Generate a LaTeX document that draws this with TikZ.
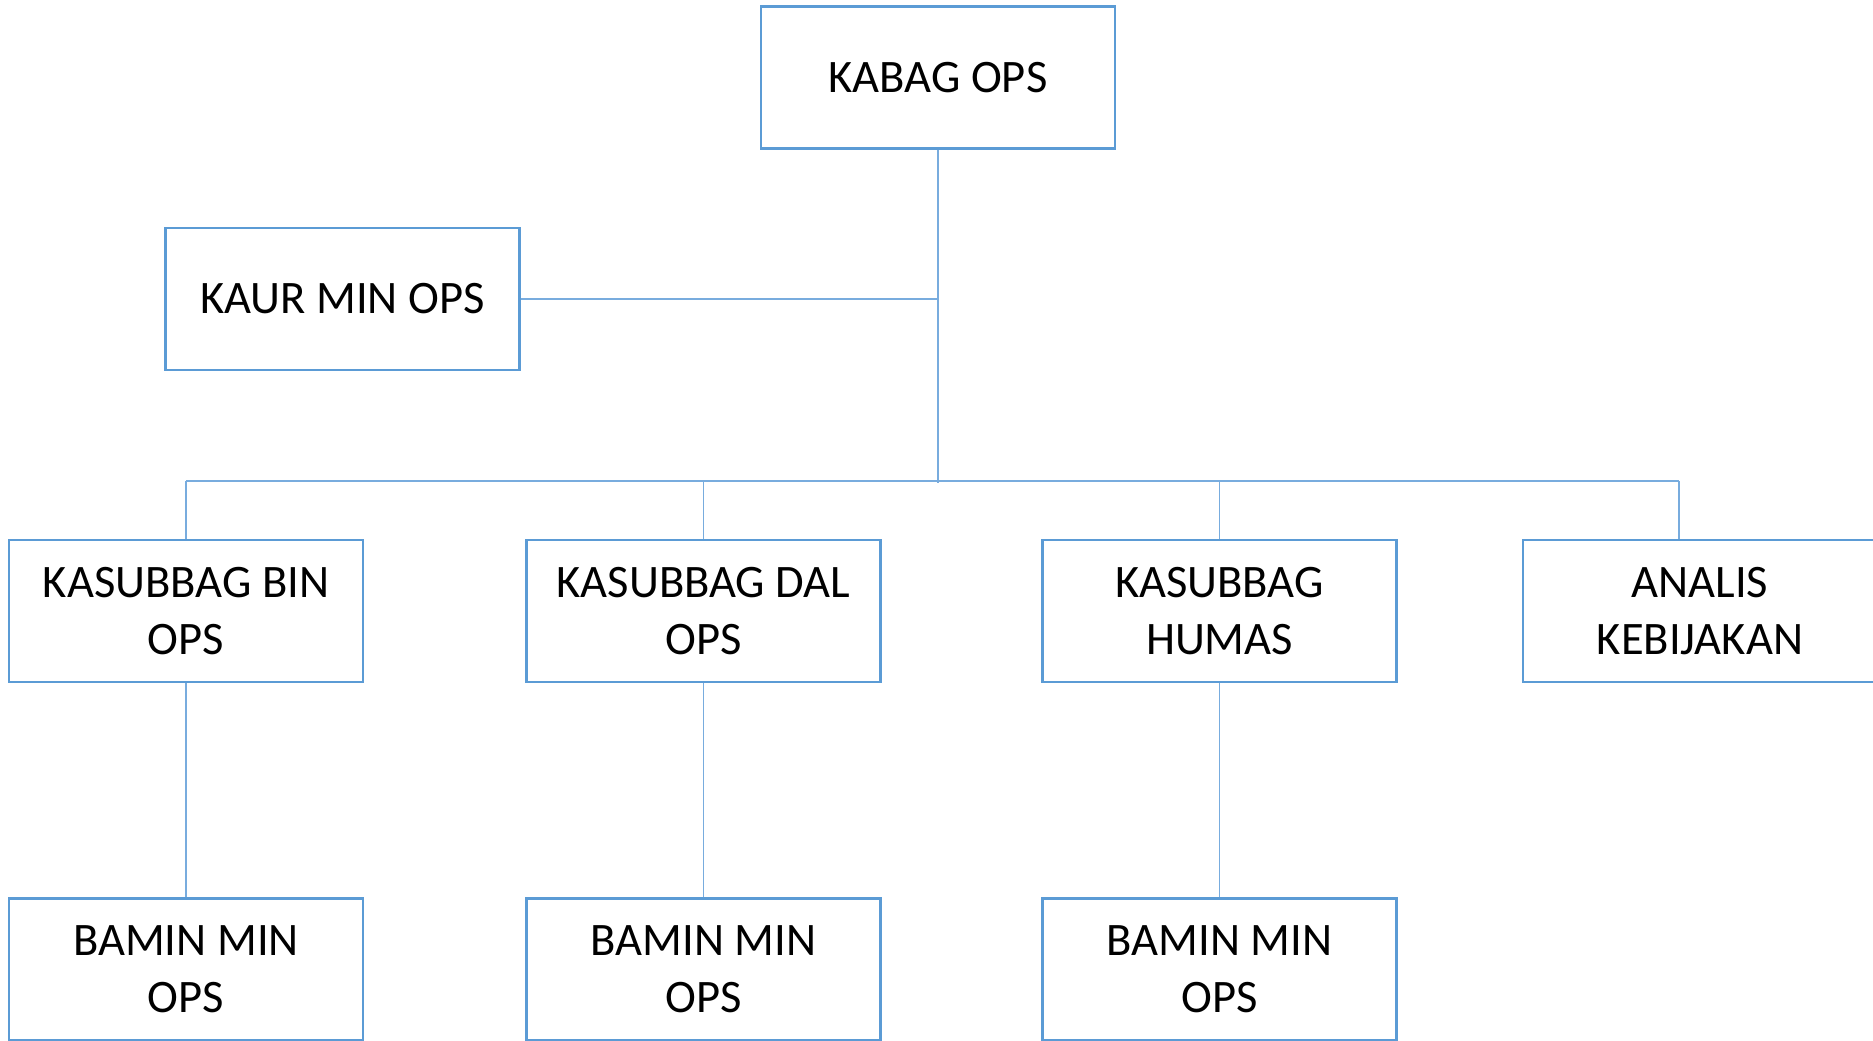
\documentclass[tikz,border=0pt]{standalone}
\usepackage{fontspec}
\setmainfont{Carlito}
\definecolor{unitblue}{RGB}{91,155,213}
\definecolor{linkblue}{RGB}{120,172,222}
\begin{document}
\begin{tikzpicture}[x=0.02cm,y=-0.02cm,
  unit/.style = {draw=unitblue, line width=1.2pt, fill=white, minimum width=7.08cm,
    minimum height=2.84cm, inner sep=0pt, align=center, font=\fontsize{26.5}{32.6}\selectfont},
  link/.style = {draw=linkblue, line width=0.8pt}]
  \useasboundingbox (0,0) rectangle (1873,1041);
  % top and staff
  \node [unit] (kabagN) at (938,77.5) {KABAG OPS};
  \node [unit] (kaurN) at (342.5,299) {KAUR MIN OPS};
  % sub sections
  \node [unit] (binN) at (186,611) {KASUBBAG BIN\\OPS};
  \node [unit] (dalN) at (703.5,611) {KASUBBAG DAL\\OPS};
  \node [unit] (humasN) at (1219.5,611) {KASUBBAG\\HUMAS};
  \node [unit] (analisN) at (1700,611) {ANALIS\\KEBIJAKAN};
  % staff below
  \node [unit] (bamin1N) at (186,969.5) {BAMIN MIN\\OPS};
  \node [unit] (bamin2N) at (703.5,969.5) {BAMIN MIN\\OPS};
  \node [unit] (bamin3N) at (1219.5,969.5) {BAMIN MIN\\OPS};
  \coordinate (busC) at (938,483);
  \coordinate (analisC) at (1679,481);
  \path [link] (kabagN.south) -- (busC);
  \path [link] (kaurN.east) -- (kaurN.east -| kabagN.south);
  \path [link] (binN.north |- analisC) -- (analisC);
  \foreach \n in {binN,dalN,humasN}
    \path [link] (\n.north |- analisC) -- (\n.north);
  \path [link] (analisC) -- (analisC |- analisN.north);
  \path [link] (binN) -- (bamin1N);
  \path [link] (dalN) -- (bamin2N);
  \path [link] (humasN) -- (bamin3N);
\end{tikzpicture}
\end{document}
